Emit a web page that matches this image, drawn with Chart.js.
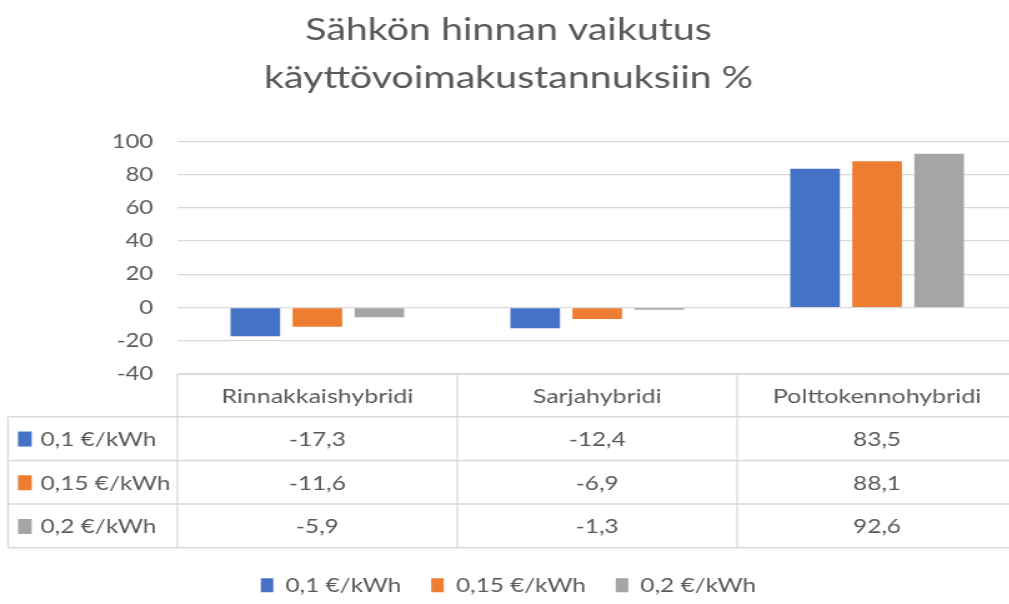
<!DOCTYPE html>
<html lang="fi">
<head>
<meta charset="utf-8">
<title>Sähkön hinnan vaikutus</title>
<script src="https://cdn.jsdelivr.net/npm/chart.js@4.4.1/dist/chart.umd.min.js"></script>
<style>
  html, body { margin: 0; padding: 0; background: #fff; overflow: hidden; }
  #wrap { width: 1009px; height: 604px; overflow: hidden; }
</style>
</head>
<body>
<!-- alkuperäinen kuva on venytetty vaakasuunnassa, joten canvas venytetään samoin -->
<div id="wrap"><canvas id="kaavio" width="814" height="605" style="width:1017px;height:605px"></canvas></div>
<script>
// Data (luettu kuvasta)
const kategoriat = ['Rinnakkaishybridi', 'Sarjahybridi', 'Polttokennohybridi'];
const sarjat = ['0,1 €/kWh', '0,15 €/kWh', '0,2 €/kWh'];
const hinta01 = [-17.3, -12.4, 83.5];
const hinta015 = [-11.6, -6.9, 88.1];
const hinta02 = [-5.9, -1.3, 92.6];
const yMin = -40, yMax = 100, yStep = 20;

const varit = ['#4472C4', '#ED7D31', '#A5A5A5'];
const tekstiVari = '#595959';
const viivaVari = '#d9d9d9';
const fontti = 'Lato, "Open Sans", sans-serif';

const arvot = [hinta01, hinta015, hinta02];

// suomalainen desimaalipilkku
function muotoile(v) {
    return v.toFixed(1).replace('.', ',');
}

// Piirtää Excel-tyylisen datataulukon kaavion alle
const taulukko = {
    id: 'taulukko',
    afterDraw(chart) {
        const ctx = chart.ctx;
        const alue = chart.chartArea;
        const x = chart.scales.x;
        const leveys = x.width / kategoriat.length;
        const ylaRivi = 42.7;
        const rivi = 43.7;
        const vasen = 6.4;
        const yla = alue.bottom;
        const ala = yla + ylaRivi + rivi * sarjat.length;

        ctx.save();
        ctx.strokeStyle = viivaVari;

        // vaakaviivat
        ctx.lineWidth = 1.5;
        ctx.beginPath();
        ctx.moveTo(alue.left, yla);
        ctx.lineTo(alue.right, yla);
        for (let r = 0; r <= sarjat.length; r++) {
            const yy = yla + ylaRivi + rivi * r;
            ctx.moveTo(vasen, yy);
            ctx.lineTo(alue.right, yy);
        }
        ctx.stroke();

        // pystyviivat
        ctx.lineWidth = 1.3;
        ctx.beginPath();
        ctx.moveTo(vasen, yla + ylaRivi);
        ctx.lineTo(vasen, ala);
        for (let i = 0; i <= kategoriat.length; i++) {
            const xx = alue.left + leveys * i;
            ctx.moveTo(xx, yla);
            ctx.lineTo(xx, ala);
        }
        ctx.stroke();

        ctx.fillStyle = tekstiVari;
        ctx.textBaseline = 'middle';
        ctx.textAlign = 'center';

        // otsikkorivi
        ctx.font = '20px ' + fontti;
        kategoriat.forEach((k, i) => {
            ctx.fillText(k, x.getPixelForValue(i), yla + ylaRivi / 2 + 1);
        });

        // arvot
        ctx.font = '19.5px ' + fontti;
        arvot.forEach((sarja, r) => {
            const yy = yla + ylaRivi + rivi * r + rivi / 2 + 1;
            sarja.forEach((v, i) => {
                ctx.fillText(muotoile(v), x.getPixelForValue(i), yy);
            });
        });

        // sarjojen nimet + värilaatikot
        ctx.textAlign = 'left';
        sarjat.forEach((s, r) => {
            const yy = yla + ylaRivi + rivi * r + rivi / 2;
            ctx.fillStyle = varit[r];
            ctx.fillRect(14.4, yy - 7, 11, 15);
            ctx.fillStyle = tekstiVari;
            ctx.fillText(s, 32.5, yy + 1);
        });
        ctx.restore();
    }
};

new Chart(document.getElementById('kaavio'), {
    type: 'bar',
    data: {
        labels: kategoriat,
        datasets: sarjat.map((s, i) => ({
            label: s,
            data: arvot[i],
            backgroundColor: varit[i],
            borderWidth: 0,
            categoryPercentage: 0.665,
            barPercentage: 0.8
        }))
    },
    options: {
        responsive: false,
        animation: false,
        layout: { padding: 0 },
        plugins: {
            title: {
                display: true,
                text: ['Sähkön hinnan vaikutus', 'käyttövoimakustannuksiin %'],
                color: tekstiVari,
                font: { family: fontti, size: 31.5, weight: 'normal', lineHeight: 1.53 },
                padding: { top: 6, bottom: 39 }
            },
            legend: {
                position: 'bottom',
                labels: {
                    color: tekstiVari,
                    font: { family: fontti, size: 19.5 },
                    boxWidth: 10,
                    boxHeight: 14,
                    padding: 24
                }
            },
            tooltip: { enabled: false }
        },
        scales: {
            x: {
                grid: { display: false },
                border: { display: false },
                ticks: { display: false },
                afterFit(scale) { scale.height = 177.5; }
            },
            y: {
                min: yMin,
                max: yMax,
                ticks: {
                    stepSize: yStep,
                    color: tekstiVari,
                    font: { family: fontti, size: 19 },
                    padding: 19.5
                },
                grid: { color: viivaVari, lineWidth: 1.3, drawTicks: false },
                border: { display: false },
                afterFit(scale) { scale.width = 142; }
            }
        }
    },
    plugins: [taulukko]
});
</script>
</body>
</html>
